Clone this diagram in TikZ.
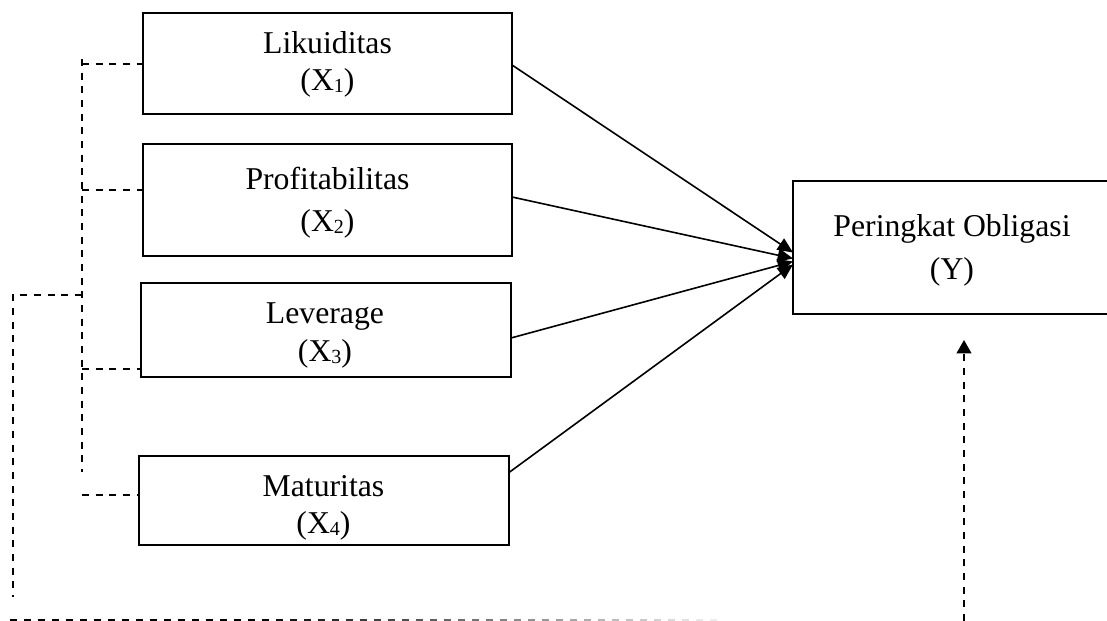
\documentclass[tikz,border=0pt]{standalone}
\usepackage{fontspec}
\setmainfont{Liberation Serif}
\usetikzlibrary{arrows.meta,calc}
\newcommand\subd[1]{\raisebox{-1.7pt}{\fontsize{15pt}{15pt}\selectfont #1}}
\begin{document}
\begin{tikzpicture}[x=0.75pt,y=-0.75pt,
  box/.style={draw, line width=1.5pt, inner sep=0pt, outer sep=0pt},
  lbl/.style={anchor=base, inner sep=0pt, font=\fontsize{23.8pt}{28pt}\selectfont},
  arr/.style={line width=1.2pt, -{Triangle[length=11.5pt,width=10pt]}},
  dsh/.style={line width=1.4pt, dash pattern=on 5.25pt off 5pt},
  upar/.style={dsh, -{Triangle[length=10pt,width=11pt]}},
]
\useasboundingbox (0,0) rectangle (1107,621);

% boxes
\node[box, minimum width=276.75pt, minimum height=75.75pt] (x1) at (327.5,63.5) {};
\node[box, minimum width=276.75pt, minimum height=84pt] (x2) at (327.5,200) {};
\node[box, minimum width=277.5pt, minimum height=70.5pt] (x3) at (326,330) {};
\node[box, minimum width=277.5pt, minimum height=66.75pt] (x4) at (324,500.5) {};
\node[box, minimum width=238.5pt, minimum height=99.75pt] (y) at (952,247.5) {};

% labels
\node[lbl] (t1a) at (327.5,53) {Likuiditas};
\node[lbl] (t1b) at (327.5,90) {(X\subd{1})};
\node[lbl] (t2a) at (327.5,189) {Profitabilitas};
\node[lbl] (t2b) at (327.5,231) {(X\subd{2})};
\node[lbl] (t3a) at (325,323) {Leverage};
\node[lbl] (t3b) at (325,361) {(X\subd{3})};
\node[lbl] (t4a) at (323.5,496) {Maturitas};
\node[lbl] (t4b) at (323.5,533) {(X\subd{4})};
\node[lbl] (tya) at (952,236) {Peringkat Obligasi};
\node[lbl] (tyb) at (952,279) {(Y)};

% solid arrows
\draw[arr] ($(x1.east)+(0,1.5)$) -- ($(y.west)+(0,5)$);
\draw[arr] ($(x2.east)+(0,-3)$) -- ($(y.west)+(0,11)$);
\draw[arr] ($(x3.east)+(0,8)$) -- ($(y.west)+(0,14)$);
\draw[arr] ($(x4.east)+(0,-28)$) -- ($(y.west)+(0,17)$);

% dashed correlation lines
\coordinate (itop) at (82,59);
\coordinate (ibot) at (82,472);
\draw[dsh] (itop) -- (ibot);
\coordinate (h1) at (82,64);
\coordinate (h2) at (82,190);
\coordinate (h3) at (82,369);
\coordinate (h4) at (82,495);
\draw[dsh] (h1) -- (x1.west |- h1);
\draw[dsh] (h2) -- (x2.west |- h2);
\draw[dsh] (h3) -- (x3.west |- h3);
\draw[dsh] (h4) -- (x4.west |- h4);
\coordinate (o1) at (82,295);
\coordinate (o2) at (13,295);
\coordinate (o3) at (13,597);
\draw[dsh] (o1) -- (o2) -- (o3);

% bottom fading dashed line
\foreach \i in {0,...,50} {
  \pgfmathsetmacro\xa{10+14*\i}
  \pgfmathtruncatemacro\sh{min(100, 100-(\xa-250)/470*95)}
  \draw[line width=1.4pt, black!\sh] (\xa,620) -- ++(7,0);
}

% dashed arrow to Y
\coordinate (ybot) at (964,621);
\coordinate (ytip) at (964,340);
\draw[upar] (ybot) -- (ytip);
\end{tikzpicture}
\end{document}
